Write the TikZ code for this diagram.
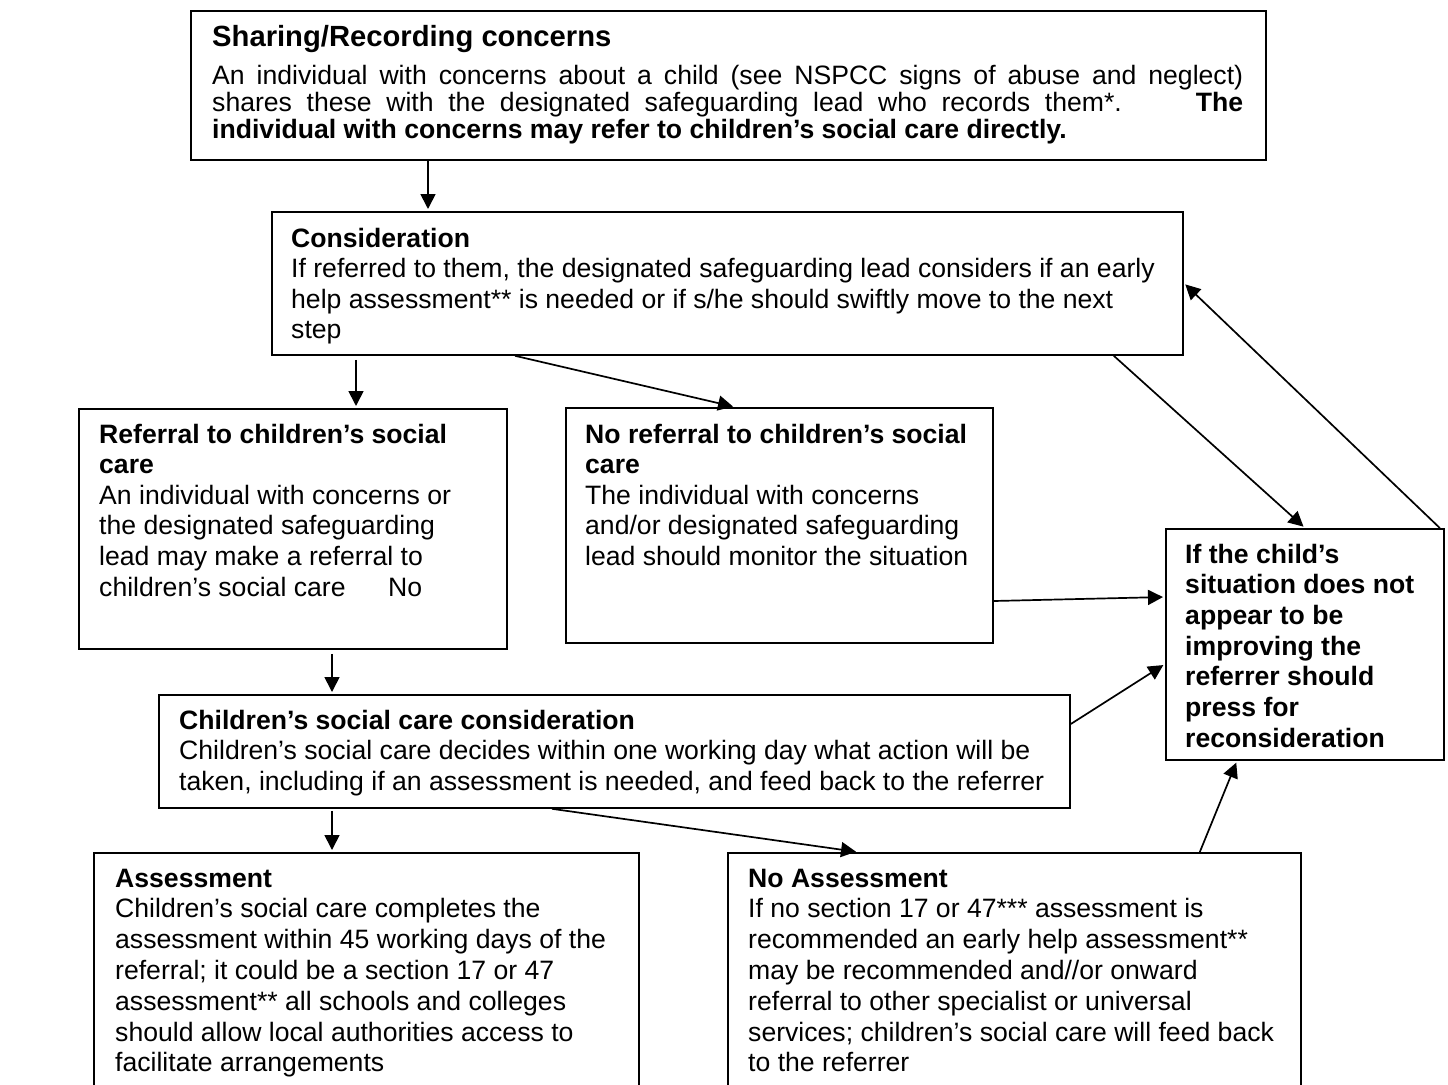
\documentclass[tikz,border=0pt]{standalone}
\usepackage{fontspec}
\setmainfont{Liberation Sans}
\usetikzlibrary{arrows.meta,calc}
\newcommand{\bodyfont}{\fontsize{26.6}{30.6}\selectfont}
\tikzset{
  box/.style={draw, line width=1.8pt, anchor=north west, inner sep=0pt},
  txt/.style={anchor=base west, inner sep=0pt},
  conn/.style={line width=1.7pt, -{Triangle[length=15pt,width=15pt]}, shorten >=2pt},
}
\begin{document}
\begin{tikzpicture}[x=1pt,y=-1pt]
\useasboundingbox (0,0) rectangle (1448,1084);
\fill[white] (0,0) rectangle (1448,1084);

% boxes
\node[box, minimum width=1075pt, minimum height=149pt] (b1) at (190,10) {};
\node[box, minimum width=911pt, minimum height=143pt] (b2) at (271,211) {};
\node[box, minimum width=428pt, minimum height=240pt] (b3) at (78,408) {};
\node[box, minimum width=427pt, minimum height=235pt] (b4) at (565,407) {};
\node[box, minimum width=278pt, minimum height=231pt] (b5) at (1165,528) {};
\node[box, minimum width=911pt, minimum height=113pt] (b6) at (158,694) {};
\node[box, minimum width=545pt, minimum height=260pt] (b7) at (93,852) {};
\node[box, minimum width=573pt, minimum height=260pt] (b8) at (727,852) {};

% texts
\node[txt] (t1a) at ($(b1.north west)+(22,36)$) {\fontsize{29.2}{30}\selectfont\bfseries Sharing/Recording concerns};
\node[txt] (t1b) at ($(b1.north west)+(22,74)$) {\parbox[t]{1031pt}{\fontsize{26.6}{27}\selectfont
  \makebox[\linewidth][s]{An individual with concerns about a child (see NSPCC signs of abuse and neglect)}\\
  \makebox[\linewidth][s]{shares these with the designated safeguarding lead who records them*.\hskip 74pt\textbf{The}}\\
  \textbf{individual with concerns may refer to children’s social care directly.}}};

\node[txt] (t2) at ($(b2.north west)+(20,36)$) {\parbox[t]{900pt}{\bodyfont
  \textbf{Consideration}\\
  If referred to them, the designated safeguarding lead considers if an early\\
  help assessment** is needed or if s/he should swiftly move to the next\\
  step}};

\node[txt] (t3) at ($(b3.north west)+(21,35)$) {\parbox[t]{420pt}{\bodyfont
  \textbf{Referral to children’s social}\\
  \textbf{care}\\
  An individual with concerns or\\
  the designated safeguarding\\
  lead may make a referral to\\
  \makebox[289pt][l]{children’s social care}No}};

\node[txt] (t4) at ($(b4.north west)+(20,36)$) {\parbox[t]{420pt}{\bodyfont
  \textbf{No referral to children’s social}\\
  \textbf{care}\\
  The individual with concerns\\
  and/or designated safeguarding\\
  lead should monitor the situation}};

\node[txt] (t5) at ($(b5.north west)+(20,35)$) {\parbox[t]{270pt}{\fontsize{26.6}{30.7}\selectfont\bfseries
  If the child’s\\
  situation does not\\
  appear to be\\
  improving the\\
  referrer should\\
  press for\\
  reconsideration}};

\node[txt] (t6) at ($(b6.north west)+(21,35)$) {\parbox[t]{900pt}{\bodyfont
  \textbf{Children’s social care consideration}\\
  Children’s social care decides within one working day what action will be\\
  taken, including if an assessment is needed, and feed back to the referrer}};

\node[txt] (t7) at ($(b7.north west)+(22,35)$) {\parbox[t]{540pt}{\fontsize{26.6}{30.8}\selectfont
  \textbf{Assessment}\\
  Children’s social care completes the\\
  assessment within 45 working days of the\\
  referral; it could be a section 17 or 47\\
  assessment** all schools and colleges\\
  should allow local authorities access to\\
  facilitate arrangements}};

\node[txt] (t8) at ($(b8.north west)+(21,35)$) {\parbox[t]{570pt}{\fontsize{26.6}{30.8}\selectfont
  \textbf{No Assessment}\\
  If no section 17 or 47*** assessment is\\
  recommended an early help assessment**\\
  may be recommended and//or onward\\
  referral to other specialist or universal\\
  services; children’s social care will feed back\\
  to the referrer}};

% connectors
\draw[conn] ($(b1.south west)+(238,0)$) -- ($(b2.north west)+(157,0)$);
\draw[conn] ($(b2.south west)+(85,4)$) -- ($(b3.north west)+(278,0)$);
\draw[conn] ($(b2.south west)+(244,0)$) -- ($(b4.north west)+(170,0)$);
\draw[conn] ($(b4.north east)+(0,194)$) -- ($(b5.north west)+(0,69)$);
\draw[conn] ($(b2.south east)+(-70,0)$) -- ($(b5.north west)+(140,0)$);
\draw[conn] ($(b5.north east)+(-5,0)$) -- ($(b2.north east)+(0,72)$);
\draw[conn] ($(b3.south west)+(254,4)$) -- ($(b6.north west)+(174,0)$);
\draw[conn] ($(b6.north east)+(0,30)$) -- ($(b5.north west)+(0,136)$);
\draw[conn] ($(b6.south west)+(174,2)$) -- ($(b7.north west)+(239,0)$);
\draw[conn] ($(b6.south west)+(394,0)$) -- ($(b8.north west)+(131,0)$);
\draw[conn] ($(b8.north east)+(-102,0)$) -- ($(b5.south west)+(72,0)$);
\end{tikzpicture}
\end{document}
